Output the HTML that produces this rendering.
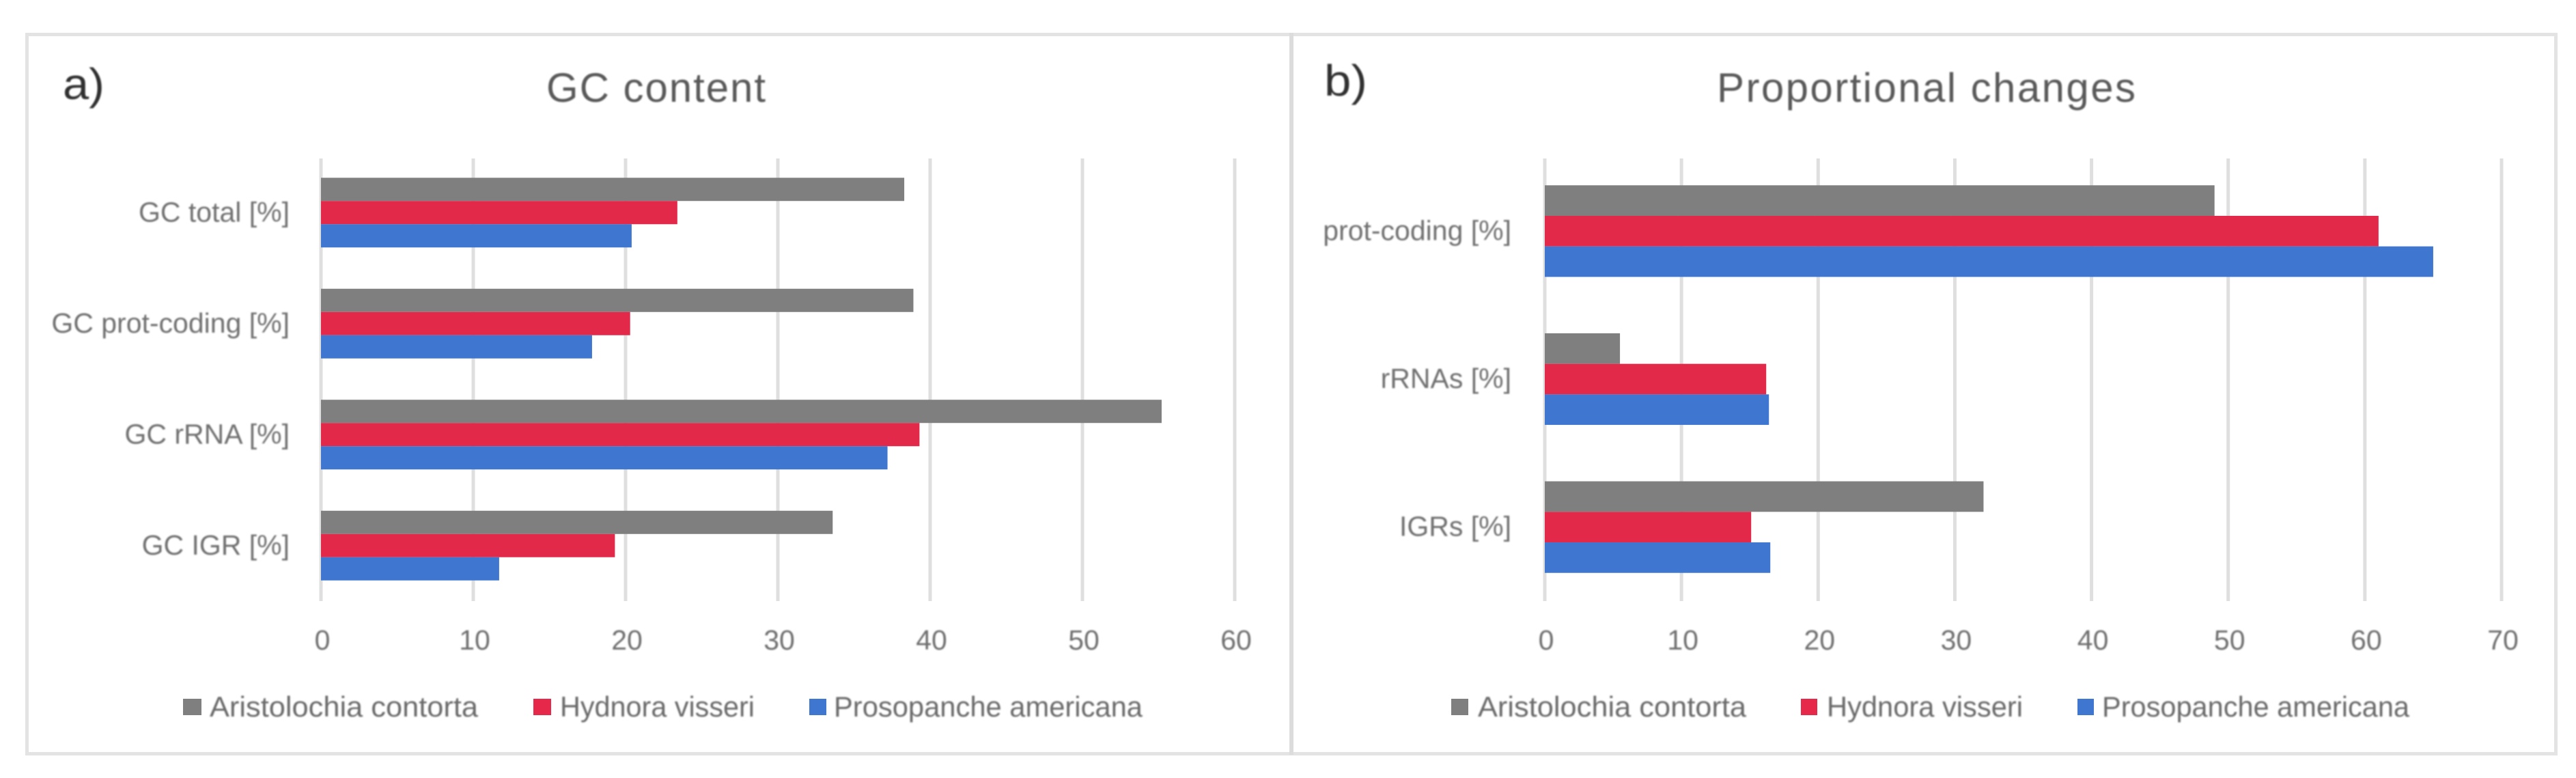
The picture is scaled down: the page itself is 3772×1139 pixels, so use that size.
<!DOCTYPE html>
<html lang="en">
<head>
<meta charset="utf-8">
<title>GC content and proportional changes</title>
<style>
html,body{margin:0;padding:0;background:#fff;width:3772px;height:1139px;overflow:hidden}
svg{display:block}
text{font-family:"Liberation Sans",sans-serif;filter:blur(1px)}
</style>
</head>
<body>
<svg id="figure" xmlns="http://www.w3.org/2000/svg" width="3772" height="1139" viewBox="0 0 3772 1139">
  <rect x="0" y="0" width="3772" height="1139" fill="#ffffff"/>
  <rect x="39.5" y="50.5" width="3703" height="1053" fill="none" stroke="#e3e3e3" stroke-width="5"/>
  <line x1="1891" x2="1891" y1="48" y2="1105" stroke="#dcdcdc" stroke-width="6"/>

  <g id="panel-a"></g>
  <g id="panel-b"></g>

  <text x="92" y="145" font-size="64" fill="#303030" textLength="61" lengthAdjust="spacingAndGlyphs">a)</text>
  <text x="1939" y="140" font-size="64" fill="#303030" textLength="63" lengthAdjust="spacingAndGlyphs">b)</text>
  <text x="800" y="149" font-size="60" fill="#595959" textLength="321" lengthAdjust="spacing">GC content</text>
  <text x="2514" y="149" font-size="60" fill="#595959" textLength="613" lengthAdjust="spacing">Proportional changes</text>

  <g>
    <rect x="268" y="1023" width="27" height="24" fill="#7f7f7f"/>
    <text x="307" y="1049" font-size="42" fill="#6a6a6a" textLength="393" lengthAdjust="spacingAndGlyphs">Aristolochia contorta</text>
    <rect x="781" y="1023" width="26" height="24" fill="#e6284a"/>
    <text x="820" y="1049" font-size="42" fill="#6a6a6a" textLength="285" lengthAdjust="spacingAndGlyphs">Hydnora visseri</text>
    <rect x="1185" y="1023" width="25" height="24" fill="#3f77d0"/>
    <text x="1221" y="1049" font-size="42" fill="#6a6a6a" textLength="452" lengthAdjust="spacingAndGlyphs">Prosopanche americana</text>
  </g>
  <g>
    <rect x="2125" y="1023" width="25" height="24" fill="#7f7f7f"/>
    <text x="2164" y="1049" font-size="42" fill="#6a6a6a" textLength="393" lengthAdjust="spacingAndGlyphs">Aristolochia contorta</text>
    <rect x="2637" y="1023" width="24" height="24" fill="#e6284a"/>
    <text x="2675" y="1049" font-size="42" fill="#6a6a6a" textLength="287" lengthAdjust="spacingAndGlyphs">Hydnora visseri</text>
    <rect x="3042" y="1023" width="24" height="24" fill="#3f77d0"/>
    <text x="3078" y="1049" font-size="42" fill="#6a6a6a" textLength="450" lengthAdjust="spacingAndGlyphs">Prosopanche americana</text>
  </g>
</svg>
<script>
// Panel a: GC content
const categoriesA = ["GC total [%]", "GC prot-coding [%]", "GC rRNA [%]", "GC IGR [%]"];
const aristolochiaA = [38.3, 38.9, 55.2, 33.6];
const hydnoraA = [23.4, 20.3, 39.3, 19.3];
const prosopancheA = [20.4, 17.8, 37.2, 11.7];
const ticksA = [0, 10, 20, 30, 40, 50, 60];

// Panel b: Proportional changes
const categoriesB = ["prot-coding [%]", "rRNAs [%]", "IGRs [%]"];
const aristolochiaB = [49.0, 5.5, 32.1];
const hydnoraB = [61.0, 16.2, 15.1];
const prosopancheB = [65.0, 16.4, 16.5];
const ticksB = [0, 10, 20, 30, 40, 50, 60, 70];

const SVG_NS = "http://www.w3.org/2000/svg";
const PLOT_TOP = 232;
const PLOT_BOTTOM = 880;
const BAND_TOP = 230;

function node(parent, tag, attrs, content) {
  const el = document.createElementNS(SVG_NS, tag);
  for (const key in attrs) el.setAttribute(key, attrs[key]);
  if (content !== undefined) el.textContent = content;
  parent.appendChild(el);
  return el;
}

function drawPanel(group, cfg) {
  const maxTick = cfg.ticks[cfg.ticks.length - 1];
  const xScale = function (v) { return cfg.x0 + (v / maxTick) * (cfg.x1 - cfg.x0); };
  const bandHeight = (PLOT_BOTTOM - BAND_TOP) / cfg.categories.length;
  const bandCenter = function (i) { return BAND_TOP + bandHeight * (i + 0.5); };

  cfg.ticks.forEach(function (t) {
    const grid = node(group, "line", {
      x1: xScale(t), x2: xScale(t), y1: PLOT_TOP, y2: PLOT_BOTTOM,
      stroke: "#dfdfdf", "stroke-width": 5
    });
    
    
    const tick = node(group, "text", {
      x: xScale(t) + 2, y: 951, "font-size": 41, fill: "#6f6f6f", "text-anchor": "middle"
    }, String(t));
    
    
  });

  cfg.categories.forEach(function (name, i) {
    const cy = bandCenter(i);
    const label = node(group, "text", {
      x: cfg.labelRight, y: cy + 13, "font-size": 41, fill: "#707070", "text-anchor": "end"
    }, name);
    
    

    cfg.series.forEach(function (s, j) {
      const top = cy - cfg.barHeight * 1.5 + cfg.barHeight * j;
      const bar = node(group, "rect", {
        x: xScale(0), y: top,
        width: xScale(s.values[i]) - xScale(0),
        height: cfg.barHeight,
        fill: s.color
      });
      
      
    });
  });
}

drawPanel(document.getElementById("panel-a"), {
  categories: categoriesA,
  ticks: ticksA,
  x0: 470, x1: 1808, labelRight: 424, barHeight: 34,
  series: [
    { values: aristolochiaA, color: "#7f7f7f" },
    { values: hydnoraA, color: "#e3294a" },
    { values: prosopancheA, color: "#3f77d0" }
  ]
});

drawPanel(document.getElementById("panel-b"), {
  categories: categoriesB,
  ticks: ticksB,
  x0: 2262, x1: 3663, labelRight: 2213, barHeight: 44.7,
  series: [
    { values: aristolochiaB, color: "#7f7f7f" },
    { values: hydnoraB, color: "#e3294a" },
    { values: prosopancheB, color: "#3f77d0" }
  ]
});
</script>
</body>
</html>
